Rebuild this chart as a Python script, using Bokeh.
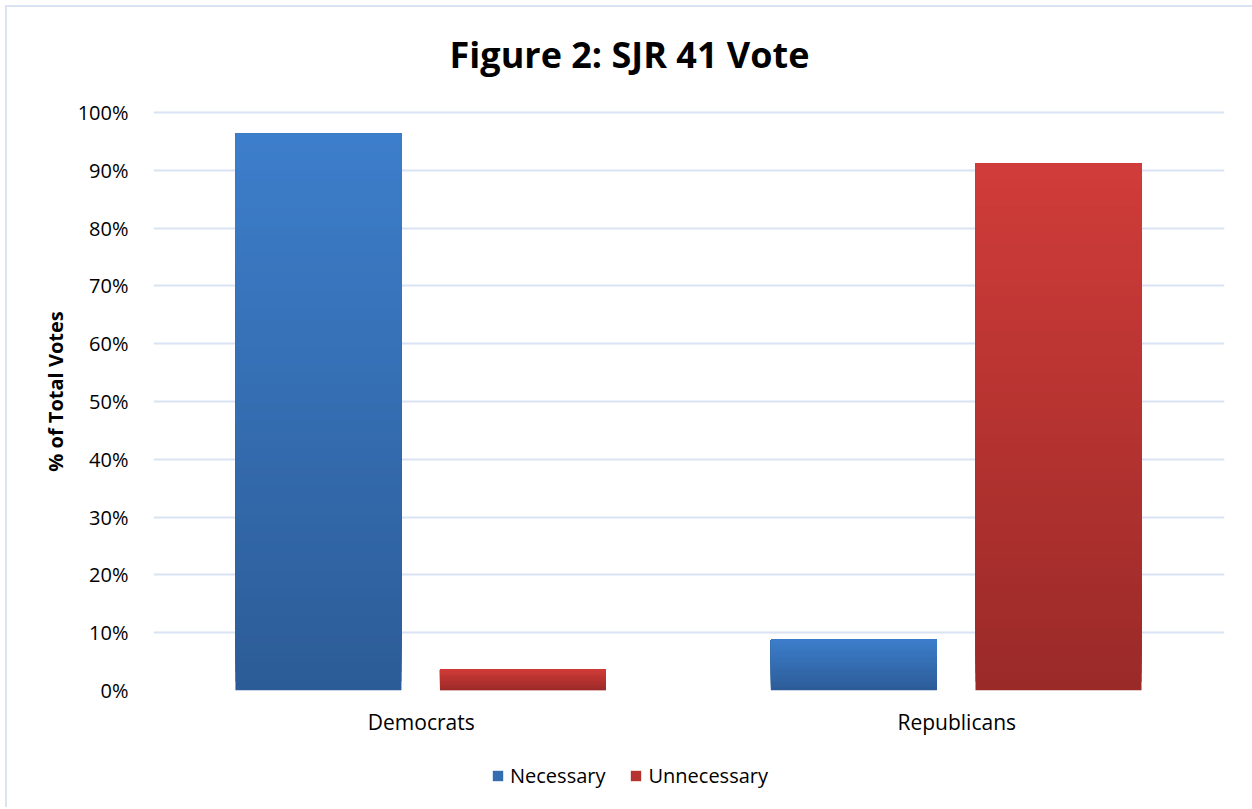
from bokeh.plotting import figure
from bokeh.layouts import column
from bokeh.models import (ColumnDataSource, FactorRange, NumeralTickFormatter,
                          Legend, LegendItem, FixedTicker, Label, Range1d)
from bokeh.transform import dodge
from bokeh.embed import file_html
from bokeh.resources import INLINE

# ---- data ----
categories = ["Democrats", "Republicans"]
series_names = ["Necessary", "Unnecessary"]
necessary = [0.964, 0.088]
unnecessary = [0.036, 0.912]
y_ticks = [0.0, 0.1, 0.2, 0.3, 0.4, 0.5, 0.6, 0.7, 0.8, 0.9, 1.0]
title_text = "Figure 2: SJR 41 Vote"
y_label = "% of Total Votes"

# ---- style ----
BLUE_TOP, BLUE_BOT = (0x3D, 0x7E, 0xCB), (0x2C, 0x5C, 0x97)
RED_TOP, RED_BOT = (0xD0, 0x3C, 0x39), (0x9A, 0x2A, 0x28)
GRID = "#D9E3F3"
FONT = "Open Sans"
N_SEG = 60
W = 1245
FRAME_L, FRAME_R = 146, 1217   # frame edges inside each figure (frames are aligned in the column)


def hexcol(c):
    return "#%02x%02x%02x" % tuple(int(round(v)) for v in c)


def gradient_source(values, top_rgb, bot_rgb):
    # each bar is painted as overlapping slices (bottom edge rising), giving a vertical gradient
    xs, bots, tops, cols = [], [], [], []
    for cat, v in zip(categories, values):
        for k in range(N_SEG):
            t = (k + 0.5) / N_SEG
            xs.append(cat)
            bots.append(v * k / N_SEG)
            tops.append(v)
            cols.append(hexcol([b + (a - b) * t for a, b in zip(top_rgb, bot_rgb)]))
    return ColumnDataSource(dict(x=xs, bottom=bots, top=tops, color=cols))


def bare(fig):
    fig.axis.visible = False
    fig.grid.grid_line_color = None
    fig.outline_line_color = None
    fig.background_fill_color = "white"
    fig.border_fill_color = "white"


src_n = gradient_source(necessary, BLUE_TOP, BLUE_BOT)
src_u = gradient_source(unnecessary, RED_TOP, RED_BOT)

# ---- title strip ----
TH = 85
pt = figure(width=W, height=TH, x_range=Range1d(FRAME_L, FRAME_R), y_range=Range1d(0, TH),
            output_backend="svg", toolbar_location=None,
            min_border_left=FRAME_L, min_border_right=W - FRAME_R,
            min_border_top=0, min_border_bottom=0)
bare(pt)
pt.add_layout(Label(x=622, y=38, text=title_text, text_align="center",
                    text_baseline="middle", text_font=FONT, text_font_size="36px",
                    text_font_style="bold", text_color="#000000"))

# ---- main chart ----
p = figure(x_range=FactorRange(*categories), y_range=Range1d(0, 1.0346),
           width=W, height=655, output_backend="svg", toolbar_location=None,
           min_border_left=FRAME_L, min_border_right=W - FRAME_R, min_border_top=0,
           min_border_bottom=57)

r_n = p.vbar(x=dodge("x", -0.192, range=p.x_range), width=0.31, bottom="bottom", top="top",
             fill_color="color", line_color=None, source=src_n)
r_u = p.vbar(x=dodge("x", 0.19, range=p.x_range), width=0.31, bottom="bottom", top="top",
             fill_color="color", line_color=None, source=src_u)

p.yaxis.ticker = FixedTicker(ticks=y_ticks)
p.yaxis.formatter = NumeralTickFormatter(format="0%")
p.yaxis.axis_line_color = None
p.yaxis.major_tick_line_color = None
p.yaxis.minor_tick_line_color = None
p.yaxis.major_label_standoff = 19
p.yaxis.major_label_text_font = FONT
p.yaxis.major_label_text_font_size = "20px"
p.yaxis.major_label_text_color = "#000000"
p.yaxis.axis_label = y_label
p.yaxis.axis_label_text_font = FONT
p.yaxis.axis_label_text_font_size = "20px"
p.yaxis.axis_label_text_font_style = "bold"
p.yaxis.axis_label_text_color = "#000000"
p.yaxis.axis_label_standoff = 6

p.xaxis.axis_line_color = None
p.xaxis.major_tick_line_color = None
p.xaxis.major_label_standoff = 11
p.xaxis.major_label_text_font = FONT
p.xaxis.major_label_text_font_size = "21px"
p.xaxis.major_label_text_color = "#000000"

p.xgrid.grid_line_color = None
p.ygrid.grid_line_color = GRID
p.ygrid.grid_line_width = 2
p.outline_line_color = None
p.background_fill_color = "white"
p.border_fill_color = "white"

# ---- legend strip ----
pl = figure(width=W, height=60, x_range=FactorRange(*categories), y_range=Range1d(10, 11),
            output_backend="svg", toolbar_location=None,
            min_border_left=FRAME_L, min_border_right=W - FRAME_R,
            min_border_top=0, min_border_bottom=0)
bare(pl)
l_n = pl.vbar(x=dodge("x", -0.192, range=pl.x_range), width=0.31, bottom="bottom", top="top",
              fill_color="color", line_color=None, source=src_n)
l_u = pl.vbar(x=dodge("x", 0.19, range=pl.x_range), width=0.31, bottom="bottom", top="top",
              fill_color="color", line_color=None, source=src_u)
legend = Legend(items=[LegendItem(label=series_names[0], renderers=[l_n], index=N_SEG // 2),
                       LegendItem(label=series_names[1], renderers=[l_u], index=N_SEG // 2)],
                orientation="horizontal", location=(334, 14),
                border_line_alpha=0, background_fill_alpha=0,
                label_text_font=FONT, label_text_font_size="20px", label_text_color="#000000",
                glyph_width=13, glyph_height=13, label_standoff=6, spacing=24,
                padding=4, margin=0)
pl.add_layout(legend)

layout = column(pt, p, pl, spacing=0)
layout.styles = {"border-left": "2px solid #D9E3F3", "border-top": "2px solid #D9E3F3",
                 "margin-left": "5px", "margin-top": "5px"}

open("out.html", "w").write(file_html(layout, INLINE))
